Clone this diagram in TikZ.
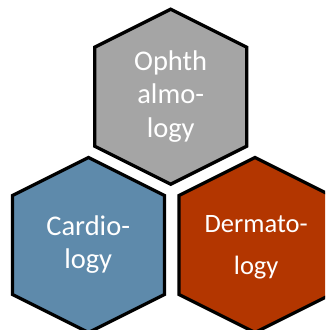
\documentclass[tikz,border=0pt]{standalone}
\usepackage{fontspec}
\setmainfont{Carlito}
\definecolor{hexgray}{HTML}{A5A5A5}
\definecolor{hexblue}{HTML}{5E8AAB}
\definecolor{hexred}{HTML}{B33600}
% pointy-top hexagon around a named centre: #1 style, #2 centre name
\newcommand\hexat[2]{%
  \draw[hexline,#1] ([shift={(0,87.5)}]#2) -- ([shift={(-76,49.5)}]#2)
    -- ([shift={(-76,-49.5)}]#2) -- ([shift={(0,-87.5)}]#2)
    -- ([shift={(76,-49.5)}]#2) -- ([shift={(76,49.5)}]#2) -- cycle;}
\tikzset{
  hexline/.style={draw=black, line width=3.3pt, line join=miter},
  hexlabel/.style={text=white, align=center, inner sep=0pt},
}
\begin{document}
\begin{tikzpicture}[x=1pt,y=1pt]
  \useasboundingbox (0,0) rectangle (325,-330);
  \clip (0,0) rectangle (325,-330);
  \coordinate (ophc) at (170.7,-96.7);
  \coordinate (carc) at (88.5,-245);
  \coordinate (derc) at (255,-245);
  \hexat{fill=hexgray}{ophc}
  \hexat{fill=hexblue}{carc}
  \hexat{fill=hexred}{derc}
  \node[hexlabel, font=\fontsize{28.5}{33.5}\selectfont] (oph) at (170.7,-96.4) {Ophth\\almo-\\logy};
  \node[hexlabel, font=\fontsize{28.5}{33}\selectfont] (car) at (88.2,-245) {Cardio-\\logy};
  \node[hexlabel, font=\fontsize{26.5}{42}\selectfont] (der) at (256.2,-247.2) {Dermato-\\logy};
\end{tikzpicture}
\end{document}
